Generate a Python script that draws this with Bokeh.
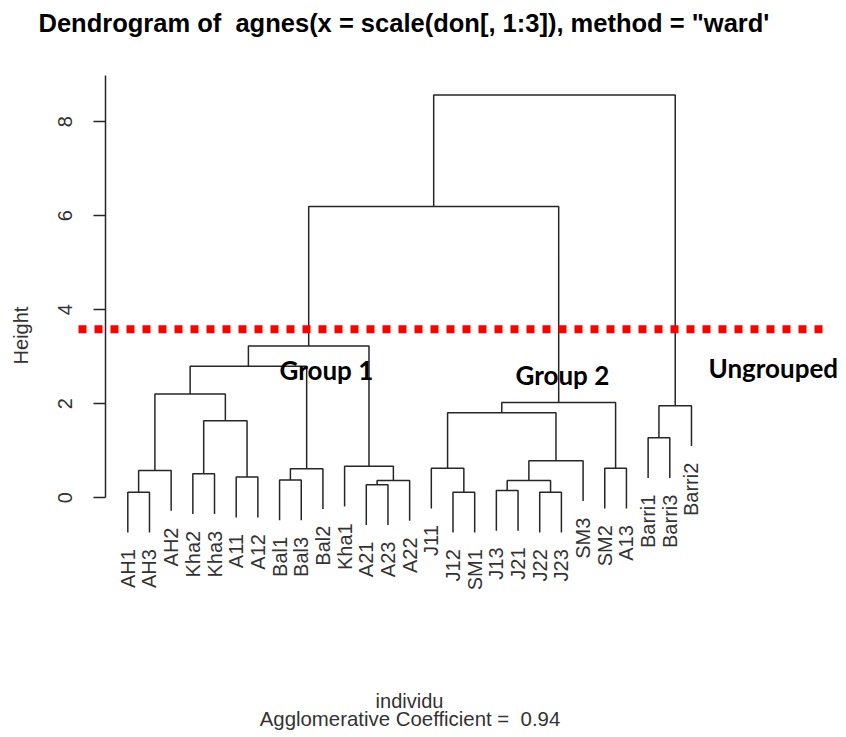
import math
from bokeh.plotting import figure
from bokeh.models import Range1d, FixedTicker, Label
from bokeh.core.properties import value
from bokeh.embed import file_html
from bokeh.resources import INLINE

# ---------------- data ----------------
leaves = ["AH1", "AH3", "AH2", "Kha2", "Kha3", "A11", "A12", "Bal1", "Bal3",
          "Bal2", "Kha1", "A21", "A23", "A22", "J11", "J12", "SM1", "J13",
          "J21", "J22", "J23", "SM3", "SM2", "A13", "Barri1", "Barri3", "Barri2"]

# merges: a string is a leaf, an int is an earlier merge (1-based)
merge_left = ["AH1", 1, "Kha2", "A11", 3, 2, "Bal1", 7, 6, "A21", 10, "Kha1", 9,
              "J12", "J11", "J13", "J22", 16, 18, 15, "SM2", 20, 13, "Barri1", 24, 23]
merge_right = ["AH3", "AH2", "Kha3", "A12", 4, 5, "Bal3", "Bal2", 8, "A23", "A22", 11, 12,
               "SM1", 14, "J21", "J23", 17, "SM3", 19, "A13", 21, 22, "Barri3", "Barri2", 25]
merge_height = [0.12, 0.58, 0.51, 0.44, 1.64, 2.21, 0.38, 0.62, 2.80, 0.28, 0.37, 0.67, 3.23,
                0.12, 0.63, 0.155, 0.12, 0.37, 0.79, 1.81, 0.63, 2.03, 6.20, 1.28, 1.96, 8.57]

y_ticks = [0, 2, 4, 6, 8]
cut_height = 3.585
group_names = ["Group 1", "Group 2", "Ungrouped"]

NBSP = "\u00a0"
title_text = "Dendrogram of " + NBSP + "agnes(x = scale(don[, 1:3]), method = \"ward'"
xlab_text = "individu"
sub_text = "Agglomerative Coefficient = " + NBSP + "0.94"
ylab_text = "Height"

# ---------------- layout (pixel geometry of the page) ----------------
W, H = 846, 737
OFF = 0
X0_PX, DX_PX = 127.3, 21.68     # picture x of first leaf, spacing
Y0_PX, DY_PX = 497.3, 47.0      # picture y of height 0, px per unit


def dx(px):
    return 1 + (px - X0_PX) / DX_PX


def dy(py):
    return (Y0_PX - py) / DY_PX


hang = 0.1 * max(merge_height)
leaf_pos = {name: i + 1 for i, name in enumerate(leaves)}

node_x = []
node_h = []


def child_info(c):
    if isinstance(c, str):
        return leaf_pos[c], None
    return node_x[c - 1], node_h[c - 1]


xs, ys = [], []
leaf_bottom = {}
for l, r, h in zip(merge_left, merge_right, merge_height):
    lx, lh = child_info(l)
    rx, rh = child_info(r)
    lb = lh if lh is not None else h - hang
    rb = rh if rh is not None else h - hang
    for c in (l, r):
        if isinstance(c, str):
            leaf_bottom[c] = h - hang
    xs.append([lx, lx, rx, rx])
    ys.append([lb, h, h, rb])
    node_x.append((lx + rx) / 2)
    node_h.append(h)

lab_x = [leaf_pos[n] for n in leaves]
lab_y = [leaf_bottom[n] - 16.7 / DY_PX for n in leaves]

p = figure(width=W, height=H, output_backend="svg", toolbar_location=None,
           x_range=Range1d(dx(OFF), dx(OFF + W)),
           y_range=Range1d(dy(OFF + H), dy(OFF)),
           x_axis_type=None, min_border=0,
           background_fill_color="white", border_fill_color="white")
p.outline_line_color = None
p.grid.visible = False

LINE = "#262626"
p.multi_line(xs=xs, ys=ys, line_color=LINE, line_width=1.5)

# cut line
p.segment(x0=[dx(78)], y0=[cut_height], x1=[dx(822)], y1=[cut_height],
          line_color="red", line_width=8, line_dash="8 8", line_cap="butt")

p.text(x=lab_x, y=lab_y, text=leaves, angle=math.pi / 2,
       text_align="right", text_baseline="middle",
       text_font=value("Liberation Sans"), text_font_size="20px",
       text_color="#333333")

# y axis
ax = p.yaxis[0]
ax.fixed_location = dx(105)
ax.bounds = (0, dy(75))
ax.ticker = FixedTicker(ticks=y_ticks)
ax.minor_tick_line_color = None
ax.major_tick_in = 0
ax.major_tick_out = 12
ax.axis_line_color = LINE
ax.major_tick_line_color = LINE
ax.axis_line_width = 1.5
ax.major_tick_line_width = 1.5
ax.major_label_orientation = "vertical"
ax.major_label_standoff = 21
ax.major_label_text_font = "Liberation Sans"
ax.major_label_text_font_size = "20px"
ax.major_label_text_color = "#333333"
ax.axis_label = None


def add_text(px, py, text, size, font="Liberation Sans", bold=False,
             align="left", color="#333333", angle=0.0):
    p.add_layout(Label(x=dx(px), y=dy(py), text=text, angle=angle,
                       text_align=align, text_baseline="middle",
                       text_font=font, text_font_size=size,
                       text_font_style="bold" if bold else "normal",
                       text_color=color))


add_text(20, 335, ylab_text, "20px", align="center", angle=math.pi / 2)
add_text(38, 22, title_text, "25.5px", bold=True, color="black")
add_text(409, 700, xlab_text, "20px", align="center")
add_text(409.5, 718.5, sub_text, "20.4px", align="center")

group_px = [(279, 369), (515, 374), (708, 367)]
for name, (gx, gy) in zip(group_names, group_px):
    add_text(gx, gy, name, "26px", font="Lato", bold=True, color="black")

open("out.html", "w").write(file_html(p, INLINE))
